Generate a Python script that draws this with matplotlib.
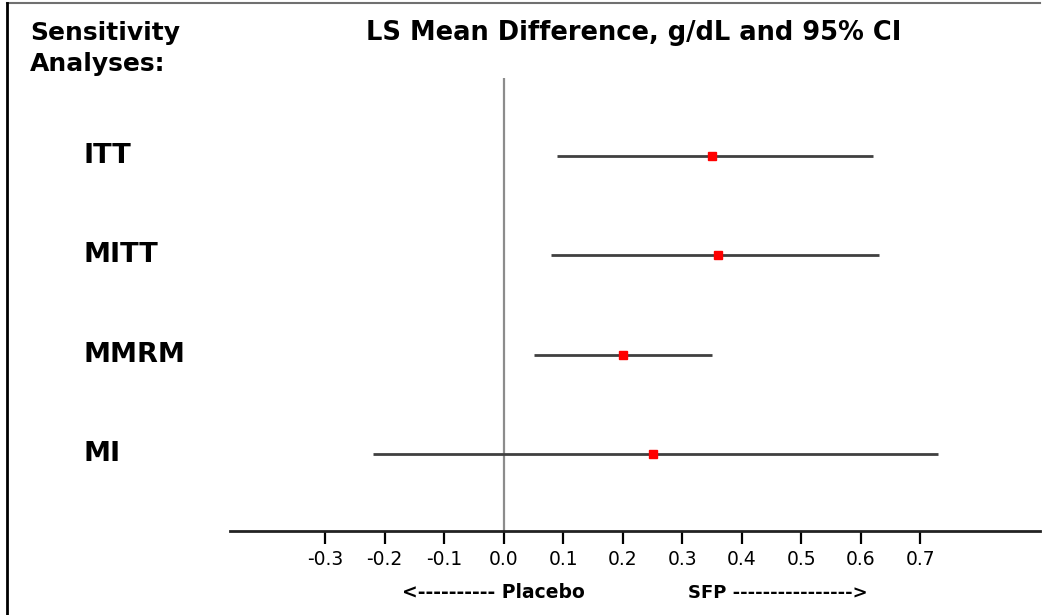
import matplotlib
matplotlib.use("Agg")
import matplotlib.pyplot as plt
from matplotlib.lines import Line2D
import matplotlib.transforms as mtrans

plt.rcParams['font.family'] = ['DejaVu Sans']

analyses = ["ITT", "MITT", "MMRM", "MI"]
estimates = [0.35, 0.36, 0.20, 0.25]
lower_ci = [0.09, 0.08, 0.05, -0.22]
upper_ci = [0.62, 0.63, 0.35, 0.73]
tick_values = [-0.3, -0.2, -0.1, 0.0, 0.1, 0.2, 0.3, 0.4, 0.5, 0.6, 0.7]
tick_labels = ["-0.3", "-0.2", "-0.1", "0.0", "0.1", "0.2", "0.3", "0.4", "0.5", "0.6", "0.7"]

W, H = 1042, 615
fig = plt.figure(figsize=(W / 100, H / 100), dpi=100)

def fx(px):
    return px / W

def fy(py):
    return 1 - py / H

ax = fig.add_axes([fx(230), fy(531), fx(1040) - fx(230), fy(78) - fy(531)])
ypos = [4, 3, 2, 1]

ax.axvline(0, color="#8c8c8c", lw=1.6, zorder=1)
for y, e, lo, hi in zip(ypos, estimates, lower_ci, upper_ci):
    ax.plot([lo, hi], [y, y], color="#404040", lw=2.0, solid_capstyle="butt", zorder=2)
    ax.plot([e], [y], marker="s", color="#ff0000", markersize=6, zorder=3)

ax.set_xlim(-0.46, 0.901)
ax.set_ylim(0.225, 4.785)
for s in ["top", "right", "left"]:
    ax.spines[s].set_visible(False)
ax.spines["bottom"].set_linewidth(2.0)
ax.spines["bottom"].set_color("#222222")
ax.set_yticks([])
ax.set_xticks(tick_values)
ax.set_xticklabels(tick_labels, fontsize=13.5)
ax.tick_params(axis="x", direction="out", length=9, width=1.6, pad=5, colors="black")

# row labels
rt = mtrans.blended_transform_factory(fig.transFigure, ax.transData)
for y, name in zip(ypos, analyses):
    fig.text(fx(84), y, name, fontsize=19.5, fontweight="bold", va="center", ha="left",
             transform=rt)

# header texts
fig.text(fx(30), fy(33), "Sensitivity", fontsize=18, fontweight="bold", va="center", ha="left")
fig.text(fx(30), fy(64), "Analyses:", fontsize=18, fontweight="bold", va="center", ha="left")
fig.text(fx(634), fy(33), "LS Mean Difference, g/dL and 95% CI", fontsize=18.5,
         fontweight="bold", va="center", ha="center")

# direction labels
bt = mtrans.blended_transform_factory(ax.transData, fig.transFigure)
fig.text(0.136, fy(593), "<---------- Placebo", fontsize=13.5, fontweight="bold",
         va="center", ha="right", transform=bt)
fig.text(0.309, fy(593), "SFP ---------------->", fontsize=13, fontweight="bold",
         va="center", ha="left", transform=bt)

# frame lines
fig.add_artist(Line2D([fx(7), fx(1040)], [fy(3), fy(3)], color="#707070", lw=1.5))
fig.add_artist(Line2D([fx(7), fx(7)], [fy(3), fy(615)], color="black", lw=2.0))

fig.savefig("out.png", dpi=100)
